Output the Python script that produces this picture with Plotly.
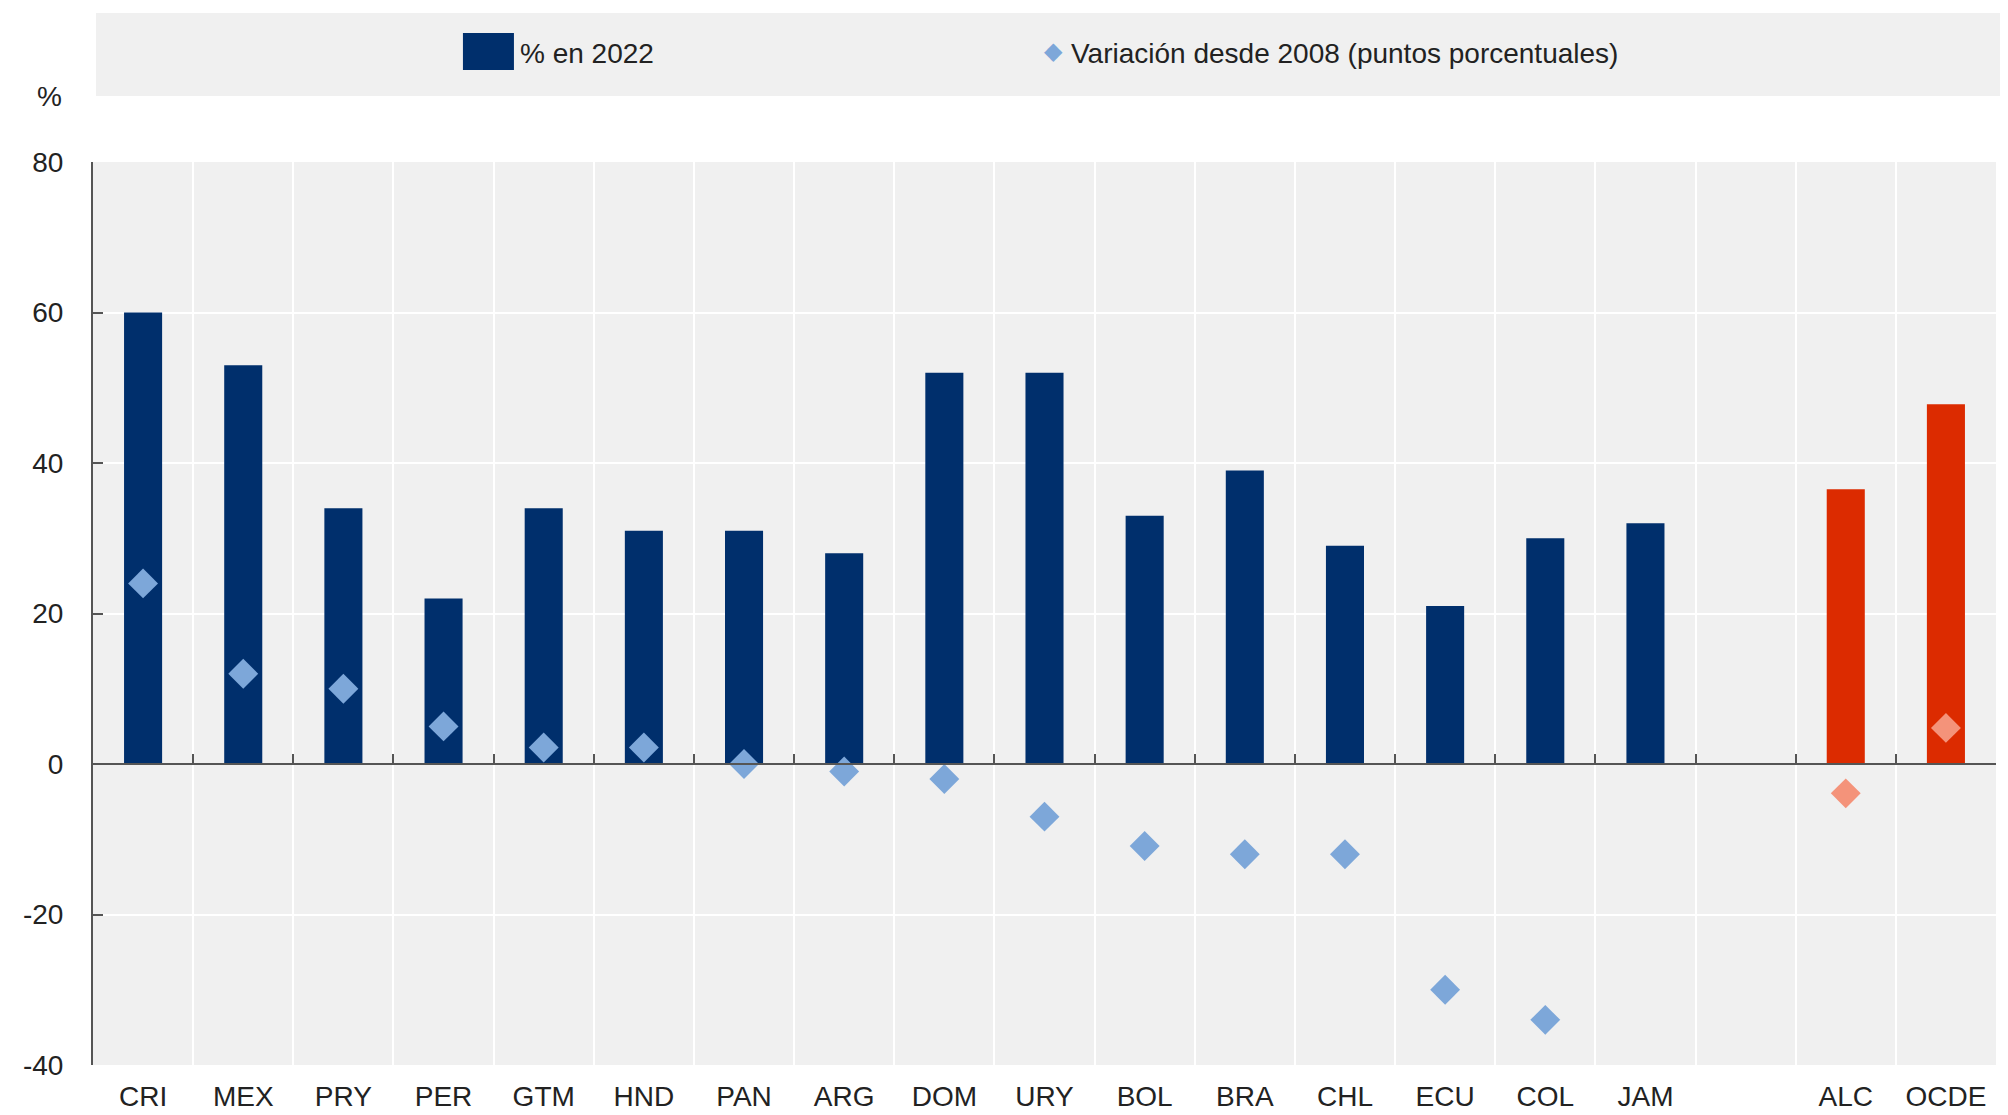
import plotly.graph_objects as go

#-------------------------------------------------------------------------------
#    Data
#-------------------------------------------------------------------------------
categories = ['CRI', 'MEX', 'PRY', 'PER', 'GTM', 'HND', 'PAN', 'ARG', 'DOM',
              'URY', 'BOL', 'BRA', 'CHL', 'ECU', 'COL', 'JAM', ' ', 'ALC', 'OCDE']
pct_2022 = [60, 53, 34, 22, 34, 31, 31, 28, 52,
            52, 33, 39, 29, 21, 30, 32, None, 36.5, 47.8]
change_since_2008 = [24, 12, 10, 5, 2.2, 2.2, 0, -1, -2,
                     -7, -10.9, -12, -12, -30, -34, None, None, -3.9, 4.8]
highlight = ['ALC', 'OCDE']
y_ticks = [-40, -20, 0, 20, 40, 60, 80]

NAVY = '#002f6c'
RED = '#dc2b00'
LIGHT_BLUE = '#7da7d9'
SALMON = '#f4937a'
BG = '#f0f0f0'
AXIS = '#555555'
TEXT = '#222222'
FONT = 'Liberation Sans Narrow, Arial Narrow, Liberation Sans, sans-serif'

bar_colors = [RED if c in highlight else NAVY for c in categories]
dot_colors = [SALMON if c in highlight else LIGHT_BLUE for c in categories]
x_range = [-0.5, len(categories) - 0.5]

#-------------------------------------------------------------------------------
#    Figure
#-------------------------------------------------------------------------------
fig = go.Figure()
fig.add_trace(go.Bar(
    x=categories, y=pct_2022, name='% en 2022',
    marker=dict(color=bar_colors, line=dict(width=0)),
    showlegend=False,
))
fig.add_trace(go.Scatter(
    x=categories, y=change_since_2008, name='Variación desde 2008 (puntos porcentuales)',
    mode='markers', xaxis='x2',
    marker=dict(symbol='diamond', size=23, color=dot_colors, line=dict(width=0)),
    showlegend=False,
))

# the page adds an 8px body margin, so the margins are shifted by that amount
fig.update_layout(
    width=2008, height=1115,
    margin=dict(l=85, r=20, t=154, b=58),
    paper_bgcolor='white', plot_bgcolor=BG,
    bargap=0.62,
    font=dict(family=FONT, size=28, color=TEXT),
    xaxis=dict(
        type='category', categoryorder='array', categoryarray=categories,
        range=x_range, autorange=False, automargin=False,
        tickson='boundaries', showgrid=True, gridcolor='white', gridwidth=2,
        ticks='', showline=False, zeroline=False, tickangle=0,
        ticklabelstandoff=12, tickfont=dict(size=28, color=TEXT),
    ),
    # second x axis sits on the zero line: it carries the axis line and the ticks
    xaxis2=dict(
        matches='x', overlaying='x', anchor='free', position=1 / 3,
        type='category', categoryorder='array', categoryarray=categories,
        range=x_range, autorange=False,
        tickson='boundaries', ticks='inside', ticklen=9, tickwidth=2,
        tickcolor=AXIS, showline=True, linecolor=AXIS, linewidth=2,
        showgrid=False, showticklabels=False, zeroline=False,
    ),
    yaxis=dict(
        range=[-40, 80], autorange=False, automargin=False,
        tickvals=y_ticks, ticktext=[str(v) for v in y_ticks],
        showgrid=True, gridcolor='white', gridwidth=2,
        zeroline=False, showline=True, linecolor=AXIS, linewidth=2,
        ticks='inside', ticklen=10, tickwidth=2, tickcolor=AXIS,
        ticklabelstandoff=22, tickfont=dict(size=28, color=TEXT),
    ),
)

#-------------------------------------------------------------------------------
#    Legend drawn as a grey band above the plot
#-------------------------------------------------------------------------------
fig.add_shape(type='rect', xref='paper', yref='paper',
              x0=0.0016, x1=1.004, y0=1.073, y1=1.165,
              fillcolor=BG, line=dict(width=0), layer='below')
fig.add_shape(type='rect', xref='paper', yref='paper',
              x0=0.1944, x1=0.2212, y0=1.1019, y1=1.1429,
              fillcolor=NAVY, line=dict(width=0))
fig.add_annotation(text='% en 2022', xref='paper', yref='paper',
                   x=0.2233, y=1.1207, xanchor='left', yanchor='middle',
                   showarrow=False, font=dict(size=28, color=TEXT))
fig.add_annotation(text='◆', xref='paper', yref='paper',
                   x=0.5045, y=1.1225, xanchor='center', yanchor='middle',
                   showarrow=False, font=dict(family='DejaVu Sans', size=24, color=LIGHT_BLUE))
fig.add_annotation(text='Variación desde 2008 (puntos porcentuales)', xref='paper', yref='paper',
                   x=0.5129, y=1.1207, xanchor='left', yanchor='middle',
                   showarrow=False, font=dict(size=28, color=TEXT))
fig.add_annotation(text='%', xref='paper', yref='paper',
                   x=-0.023, y=1.073, xanchor='center', yanchor='middle',
                   showarrow=False, font=dict(size=28, color=TEXT))

fig.write_html('out.html')
